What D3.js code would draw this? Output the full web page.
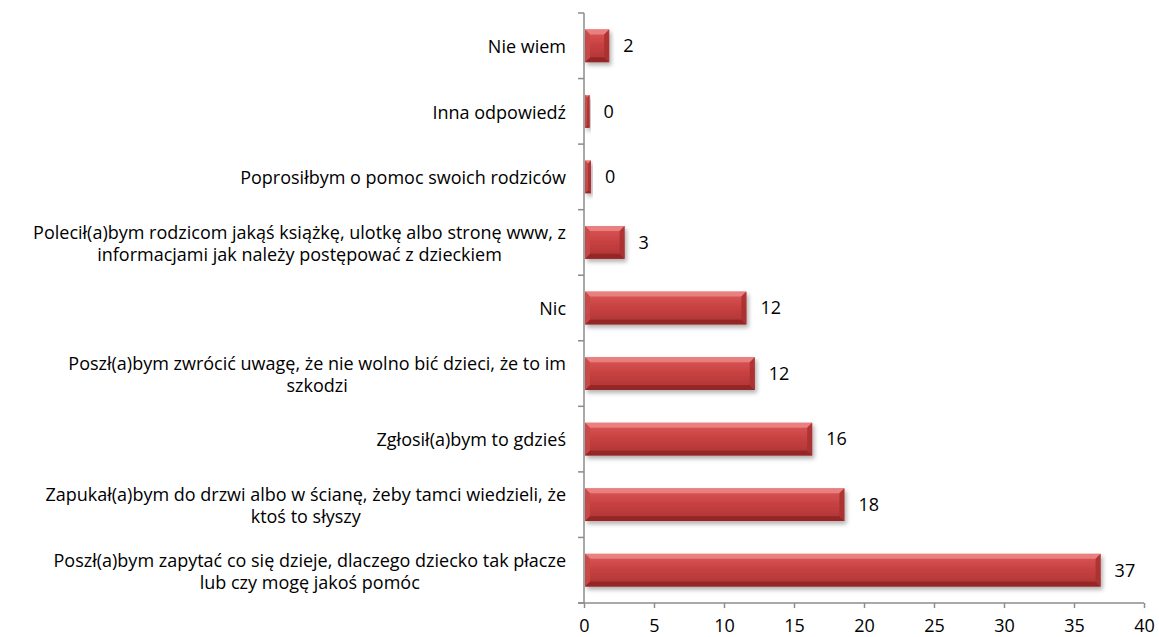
<!DOCTYPE html>
<html><head><meta charset="utf-8">
<script src="https://cdn.jsdelivr.net/npm/d3@7"></script>
<style>
html,body{margin:0;padding:0;background:#fff;}
svg{display:block;font-family:"Open Sans",sans-serif;}
</style></head>
<body>
<svg id="chart" width="1159" height="637"></svg>
<script>
// categories from bottom to top, each as wrapped lines
const categories = [
  ["Poszł(a)bym zapytać co się dzieje, dlaczego dziecko tak płacze", "lub czy mogę jakoś pomóc"],
  ["Zapukał(a)bym do drzwi albo w ścianę, żeby tamci wiedzieli, że", "ktoś to słyszy"],
  ["Zgłosił(a)bym to gdzieś"],
  ["Poszł(a)bym zwrócić uwagę, że nie wolno bić dzieci, że to im", "szkodzi"],
  ["Nic"],
  ["Polecił(a)bym rodzicom jakąś książkę, ulotkę albo stronę www, z", "informacjami jak należy postępować z dzieckiem"],
  ["Poprosiłbym o pomoc swoich rodziców"],
  ["Inna odpowiedź"],
  ["Nie wiem"]
];
const values = [36.9, 18.6, 16.3, 12.2, 11.6, 2.9, 0.5, 0.4, 1.8];
const valueLabels = ["37", "18", "16", "12", "12", "3", "0", "0", "2"];
const xTicks = [0, 5, 10, 15, 20, 25, 30, 35, 40];

const svg = d3.select("#chart");
const plotLeft = 584, plotRight = 1144, plotTop = 13, plotBottom = 603;
const fs = 18;

const x = d3.scaleLinear().domain([0, 40]).range([plotLeft, plotRight]);
const idx = d3.range(categories.length);
const y = d3.scaleBand().domain(idx.slice().reverse()).range([plotTop, plotBottom]).paddingInner(0.5).paddingOuter(0.25);
const yb = d3.scaleBand().domain(idx.slice().reverse()).range([plotTop, plotBottom]);

const defs = svg.append("defs");
const g = defs.append("linearGradient").attr("id","barGrad").attr("x1",0).attr("y1",0).attr("x2",0).attr("y2",1);
g.append("stop").attr("offset","0%").attr("stop-color","#dc5a5a");
g.append("stop").attr("offset","45%").attr("stop-color","#c94242");
g.append("stop").attr("offset","100%").attr("stop-color","#ad3333");
const f = defs.append("filter").attr("id","shadow").attr("x","-10%").attr("y","-30%").attr("width","130%").attr("height","180%");
f.append("feDropShadow").attr("dx",2).attr("dy",3).attr("stdDeviation",2).attr("flood-color","#000").attr("flood-opacity",0.3);

// axes
const axisColor = "#8c8c8c";
svg.append("line").attr("x1",plotLeft).attr("x2",plotLeft).attr("y1",plotTop).attr("y2",plotBottom).attr("stroke",axisColor).attr("stroke-width",1.5);
svg.append("line").attr("x1",plotLeft - 6).attr("x2",plotRight).attr("y1",plotBottom).attr("y2",plotBottom).attr("stroke",axisColor).attr("stroke-width",1.5);
const bandEdges = idx.map(i => yb(i)).concat([plotBottom]);
svg.selectAll(".ytick").data(bandEdges).enter().append("line")
  .attr("x1", plotLeft - 6).attr("x2", plotLeft).attr("y1", d => d).attr("y2", d => d)
  .attr("stroke", axisColor).attr("stroke-width", 1.5);

const xAxis = d3.axisBottom(x).tickValues(xTicks).tickSize(5).tickPadding(11).tickFormat(d3.format("d"));
const xg = svg.append("g").attr("transform", `translate(0,${plotBottom})`).call(xAxis);
xg.select(".domain").remove();
xg.selectAll(".tick line").attr("stroke", axisColor).attr("stroke-width", 1.5);
xg.selectAll(".tick text").attr("font-size", fs).attr("fill", "#000").attr("font-family", "'Open Sans', sans-serif");

// bars
const bars = svg.append("g");
idx.forEach(i => {
  const x0 = x(0) + 1, x1 = x(values[i]);
  const y0 = y(i), h = y.bandwidth(), w = x1 - x0;
  const b = Math.min(5, w / 2, h / 2);
  const gb = bars.append("g").attr("filter", "url(#shadow)");
  gb.append("rect").attr("x", x0).attr("y", y0).attr("width", w).attr("height", h).attr("fill", "url(#barGrad)");
  gb.append("polygon").attr("points", [[x0,y0],[x1,y0],[x1-b,y0+b],[x0+b,y0+b]].map(p=>p.join(",")).join(" "))
    .attr("fill", "#ee8a8a").attr("opacity", 0.8);
  gb.append("polygon").attr("points", [[x0,y0+h],[x1,y0+h],[x1-b,y0+h-b],[x0+b,y0+h-b]].map(p=>p.join(",")).join(" "))
    .attr("fill", "#8e2626").attr("opacity", 0.8);
  gb.append("polygon").attr("points", [[x0,y0],[x0+b,y0+b],[x0+b,y0+h-b],[x0,y0+h]].map(p=>p.join(",")).join(" "))
    .attr("fill", "#c84a4a").attr("opacity", 0.85);
  gb.append("polygon").attr("points", [[x1,y0],[x1-b,y0+b],[x1-b,y0+h-b],[x1,y0+h]].map(p=>p.join(",")).join(" "))
    .attr("fill", "#a83030").attr("opacity", 0.85);
});

// value labels
svg.append("g").selectAll("text").data(idx).enter().append("text")
  .attr("x", i => x(values[i]) + 14)
  .attr("y", i => y(i) + y.bandwidth() / 2)
  .attr("dy", "0.35em")
  .attr("font-size", fs).attr("fill", "#000")
  .text(i => valueLabels[i]);

// category labels: block right-aligned, lines centered
const labelRight = 566, lineH = 22;
const lg = svg.append("g");
idx.forEach(i => {
  const lines = categories[i];
  const cy = y(i) + y.bandwidth() / 2 + 1;
  const t = lg.append("text").attr("font-size", fs).attr("fill", "#000");
  const spans = lines.map((ln, k) => t.append("tspan").text(ln)
    .attr("y", cy + (k - (lines.length - 1) / 2) * lineH).attr("dy", "0.35em"));
  const widths = spans.map(s => s.node().getComputedTextLength());
  const maxW = d3.max(widths);
  const center = labelRight - maxW / 2;
  spans.forEach(s => s.attr("x", center).attr("text-anchor", "middle"));
});
</script>
</body></html>
